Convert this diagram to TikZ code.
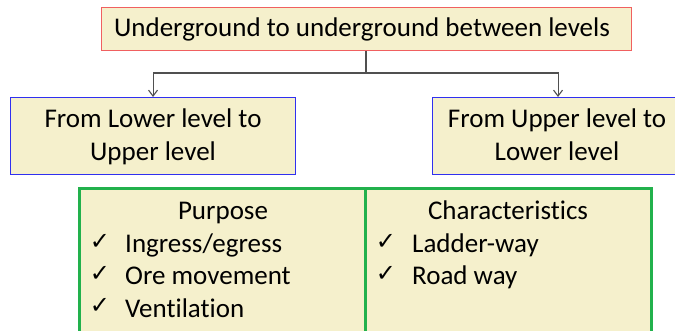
\documentclass[tikz,border=0pt]{standalone}
\usepackage{fontspec}
\setmainfont[Ligatures={NoCommon}]{Carlito}
\newfontfamily\symfont{DejaVu Sans}
\usetikzlibrary{arrows.meta}
\definecolor{boxfill}{HTML}{F5F0CC}
\definecolor{redline}{HTML}{F06060}
\definecolor{blueline}{HTML}{3030F0}
\definecolor{greenline}{HTML}{22B14C}
\definecolor{conn}{HTML}{505050}
\tikzset{
  box/.style={draw, fill=boxfill, line width=1.1pt},
  txt/.style={font=\fontsize{27}{30}\selectfont, inner sep=0pt, anchor=base},
  ltxt/.style={font=\fontsize{27}{30}\selectfont, inner sep=0pt, anchor=base west},
  chk/.style={font=\symfont\fontsize{24}{26}\selectfont, inner sep=0pt, anchor=center},
  link/.style={draw=conn, line width=1.1pt, -{Straight Barb[length=6pt,width=9pt]}}
}
\begin{document}
\begin{tikzpicture}[x=1pt,y=-1pt]
\useasboundingbox (0,0) rectangle (675,331);
\clip (0,0) rectangle (675,331);
% top box
\node[box, draw=redline, line width=1.4pt, minimum width=530pt, minimum height=43pt, anchor=north west] (top) at (101,7) {};
\node[txt] (toptxt) at (362,37) {Underground to underground between levels};
% left / right boxes
\node[box, draw=blueline, minimum width=285pt, minimum height=77pt, anchor=north west] (left) at (10,97) {};
\node[txt] (lefttxt) at (153,128) {From Lower level to};
\node[txt] (lefttxt2) at (153,161) {Upper level};
\node[box, draw=blueline, minimum width=251pt, minimum height=77pt, anchor=north west] (right) at (432,97) {};
\node[txt] (righttxt) at (557,128) {From Upper level to};
\node[txt] (righttxt2) at (557,161) {Lower level};
% connectors
\coordinate (mid) at (366,73);
\draw[draw=conn, line width=1.1pt] (top.south -| mid) -- (mid);
\draw[link] (mid) -| (left.north);
\draw[link] (mid) -| (right.north);
% green boxes
\node[box, draw=greenline, line width=2.8pt, minimum width=286pt, minimum height=160pt, anchor=north west] (purp) at (78,187) {};
\node[box, draw=greenline, line width=2.8pt, minimum width=286pt, minimum height=160pt, anchor=north west] (char) at (364,187) {};
\node[txt] (ptitle) at (223,220) {Purpose};
\node[chk] (c1) at (100,242) {✓};
\node[ltxt] (p1) at (125,253) {Ingress/egress};
\node[chk] (c2) at (100,274) {✓};
\node[ltxt] (p2) at (125,285) {Ore movement};
\node[chk] (c3) at (100,306) {✓};
\node[ltxt] (p3) at (125,317) {Ventilation};
\node[txt] (ctitle) at (508,220) {Characteristics};
\node[chk] (d1) at (386,242) {✓};
\node[ltxt] (q1) at (412,253) {Ladder-way};
\node[chk] (d2) at (386,274) {✓};
\node[ltxt] (q2) at (412,285) {Road way};
\end{tikzpicture}
\end{document}
